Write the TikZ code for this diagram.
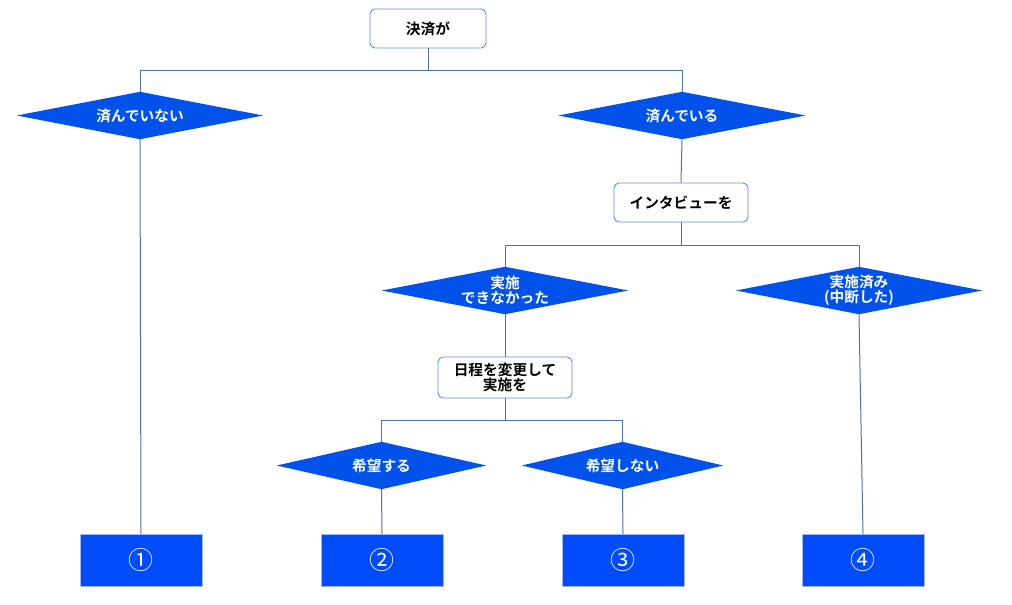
\documentclass[tikz,border=0pt]{standalone}
\usepackage{fontspec}
\setmainfont{Noto Sans CJK JP}[BoldFont={Noto Sans CJK JP Bold}]
\definecolor{dfill}{RGB}{0,82,235}
\definecolor{bfill}{RGB}{0,76,250}
\definecolor{lcol}{RGB}{75,115,170}
\definecolor{bbord}{RGB}{90,140,240}
\begin{document}
\begin{tikzpicture}[x=1pt,y=-1pt,
  conn/.style={draw=lcol,line width=1pt},
  qbox/.style={draw=bbord,line width=0.9pt,fill=white,rounded corners=5pt,font=\bfseries\fontsize{14.7}{16}\selectfont,align=center,inner sep=0pt},
  dnode/.style={inner sep=0pt,text=white,font=\bfseries\fontsize{14.7}{16}\selectfont,align=center},
  rbox/.style={fill=bfill,draw=bbord!60,line width=0.5pt,text=white,minimum width=122pt,minimum height=52pt,inner sep=0pt,font=\fontsize{25}{26}\selectfont}
]
\useasboundingbox (0,0) rectangle (1012,605);
% white boxes
\node[qbox,minimum width=116pt,minimum height=39pt] (top) at (428,28.5) {決済が};
\node[qbox,minimum width=134pt,minimum height=39pt] (iv) at (681,202.5) {インタビューを};
\node[qbox,minimum width=134pt,minimum height=41pt] (rs) at (505,377.5) {日程を変更して\\[-1pt]実施を};
% diamonds (named rectangles, filled as diamonds)
\newcommand{\mydia}[4]{%
  \node[dnode,minimum width=#3pt,minimum height=47pt] (#1) at (#2) {};
  \fill[dfill] (#1.west) -- (#1.north) -- (#1.east) -- (#1.south) -- cycle;
  \node[dnode] at (#1.center) {#4};}
\mydia{d1}{140,115.5}{246}{済んでいない}
\mydia{d2}{682,115.5}{247}{済んでいる}
\mydia{d3}{505,290.5}{246}{実施\\[-1pt]できなかった}
\mydia{d4}{859,290.5}{246}{実施済み\\[-1pt](中断した)}
\mydia{d5}{381.5,465.5}{209}{希望する}
\mydia{d6}{622.5,465.5}{201}{希望しない}
% result boxes
\node[rbox] (r1) at (141,560) {①};
\node[rbox] (r2) at (382,560) {②};
\node[rbox] (r3) at (623,560) {③};
\node[rbox] (r4) at (863,560) {④};
% connectors
\coordinate (j1) at (428,70);
\coordinate (j2) at (681,245);
\coordinate (j3) at (505,420);
\draw[conn] (top.south) -- (j1);
\draw[conn] (j1) -| (d1.north);
\draw[conn] (j1) -| (d2.north);
\draw[conn] (d1.south) -- (r1.north);
\draw[conn] (d2.south) -- (iv.north);
\draw[conn] (iv.south) -- (j2);
\draw[conn] (j2) -| (d3.north);
\draw[conn] (j2) -| (d4.north);
\draw[conn] (d3.south) -- (rs.north);
\draw[conn] (rs.south) -- (j3);
\draw[conn] (j3) -| (d5.north);
\draw[conn] (j3) -| (d6.north);
\draw[conn] (d5.south) -- (r2.north);
\draw[conn] (d6.south) -- (r3.north);
\draw[conn] (d4.south) -- (r4.north);
\end{tikzpicture}
\end{document}
